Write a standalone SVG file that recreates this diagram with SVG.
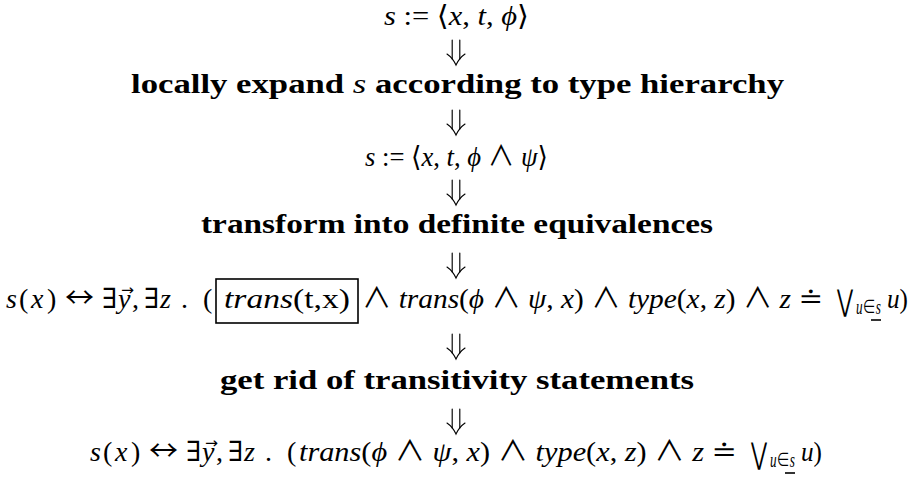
<svg xmlns="http://www.w3.org/2000/svg" xmlns:xlink="http://www.w3.org/1999/xlink" width="912" height="480" viewBox="0 0 912 480">
<style>
.t{font-family:"Liberation Serif","DejaVu Serif",serif;font-size:28px;fill:#000}
.b{font-weight:bold}
.i{font-style:italic;font-weight:normal}
.op{font-family:"DejaVu Sans ExtraLight","Noto Sans CJK JP","DejaVu Serif",serif;font-style:normal;font-weight:normal}
.sub{font-size:20px}
.vec{font-family:"DejaVu Sans",sans-serif;font-size:15px;fill:#000}
.big{font-family:"DejaVu Sans",sans-serif;font-size:30px;fill:#000}
.arr{fill:none;stroke:#000;stroke-width:1.15;stroke-linecap:round}
.box{fill:none;stroke:#000;stroke-width:1.6}
.ul{stroke:#000;stroke-width:1.6}
</style>
<defs>
<g id="dn" class="arr">
<path d="M-3.8 0V19M3.8 0V19"/>
<path d="M-9 14Q-3.2 18 0 25Q3.2 18 9 14"/>
</g>
</defs>
<rect width="912" height="480" fill="#fff"/>
<g id="n1">
<text class="t" x="384" y="25" textLength="145" lengthAdjust="spacingAndGlyphs"><tspan class="i">s</tspan> := ⟨<tspan class="i">x</tspan>, <tspan class="i">t</tspan>, <tspan class="i">ϕ</tspan>⟩</text>
</g>
<g id="n2">
<text class="t b" x="131" y="93" textLength="653" lengthAdjust="spacingAndGlyphs">locally expand <tspan class="i">s</tspan> according to type hierarchy</text>
</g>
<g id="n3">
<text class="t" x="365" y="166" textLength="183" lengthAdjust="spacingAndGlyphs"><tspan class="i">s</tspan> := ⟨<tspan class="i">x</tspan>, <tspan class="i">t</tspan>, <tspan class="i">ϕ</tspan> <tspan class="op">∧</tspan> <tspan class="i">ψ</tspan>⟩</text>
</g>
<g id="n4">
<text class="t b" x="201" y="233" textLength="512" lengthAdjust="spacingAndGlyphs">transform into definite equivalences</text>
</g>
<g id="n5">
<text class="t"><tspan class="i" x="6" y="308">s</tspan><tspan x="19">(</tspan><tspan class="i" x="31">x</tspan><tspan x="47">)</tspan><tspan class="op" x="65" textLength="29" lengthAdjust="spacingAndGlyphs">↔</tspan><tspan x="102">∃</tspan><tspan class="i" x="118">y</tspan><tspan x="132">,</tspan><tspan x="144">∃</tspan><tspan class="i" x="160">z</tspan><tspan x="181">.</tspan><tspan x="203">(</tspan></text>
<text class="vec" x="121" y="295" textLength="13" lengthAdjust="spacingAndGlyphs">→</text>
<rect class="box" x="216" y="279" width="142" height="44"/>
<text class="t" x="224" y="308" textLength="126" lengthAdjust="spacingAndGlyphs"><tspan class="i">trans</tspan>(t,x)</text>
<text class="t" x="362" y="308" textLength="461" lengthAdjust="spacingAndGlyphs"><tspan class="op">∧</tspan> <tspan class="i">trans</tspan>(<tspan class="i">ϕ</tspan> <tspan class="op">∧</tspan> <tspan class="i">ψ</tspan>, <tspan class="i">x</tspan>) <tspan class="op">∧</tspan> <tspan class="i">type</tspan>(<tspan class="i">x</tspan>, <tspan class="i">z</tspan>) <tspan class="op">∧</tspan> <tspan class="i">z</tspan> <tspan class="op">≐</tspan></text>
<text class="big" x="837" y="311" textLength="16" lengthAdjust="spacingAndGlyphs">⋁</text>
<text class="t sub" x="856" y="314" textLength="25" lengthAdjust="spacingAndGlyphs"><tspan class="i">u</tspan><tspan class="op">∈</tspan><tspan class="i">s</tspan></text>
<line class="ul" x1="871" y1="320" x2="881" y2="320"/>
<text class="t" x="887" y="308" textLength="21" lengthAdjust="spacingAndGlyphs"><tspan class="i">u</tspan>)</text>
</g>
<g id="n6">
<text class="t b" x="220" y="389" textLength="474" lengthAdjust="spacingAndGlyphs">get rid of transitivity statements</text>
</g>
<g id="n7">
<text class="t"><tspan class="i" x="90" y="461">s</tspan><tspan x="103">(</tspan><tspan class="i" x="115">x</tspan><tspan x="131">)</tspan><tspan class="op" x="149" textLength="29" lengthAdjust="spacingAndGlyphs">↔</tspan><tspan x="186">∃</tspan><tspan class="i" x="202">y</tspan><tspan x="216">,</tspan><tspan x="228">∃</tspan><tspan class="i" x="244">z</tspan><tspan x="265">.</tspan><tspan x="287">(</tspan></text>
<text class="vec" x="205" y="448" textLength="13" lengthAdjust="spacingAndGlyphs">→</text>
<text class="t" x="299" y="461" textLength="438" lengthAdjust="spacingAndGlyphs"><tspan class="i">trans</tspan>(<tspan class="i">ϕ</tspan> <tspan class="op">∧</tspan> <tspan class="i">ψ</tspan>, <tspan class="i">x</tspan>) <tspan class="op">∧</tspan> <tspan class="i">type</tspan>(<tspan class="i">x</tspan>, <tspan class="i">z</tspan>) <tspan class="op">∧</tspan> <tspan class="i">z</tspan> <tspan class="op">≐</tspan></text>
<text class="big" x="751" y="464" textLength="16" lengthAdjust="spacingAndGlyphs">⋁</text>
<text class="t sub" x="770" y="467" textLength="25" lengthAdjust="spacingAndGlyphs"><tspan class="i">u</tspan><tspan class="op">∈</tspan><tspan class="i">s</tspan></text>
<line class="ul" x1="785" y1="473" x2="795" y2="473"/>
<text class="t" x="801" y="461" textLength="21" lengthAdjust="spacingAndGlyphs"><tspan class="i">u</tspan>)</text>
</g>
<g id="connectors">
<use xlink:href="#dn" x="456" y="40"/>
<use xlink:href="#dn" x="456" y="110"/>
<use xlink:href="#dn" x="456" y="180"/>
<use xlink:href="#dn" x="456" y="253"/>
<use xlink:href="#dn" x="456" y="334"/>
<use xlink:href="#dn" x="456" y="409"/>
</g>
</svg>
